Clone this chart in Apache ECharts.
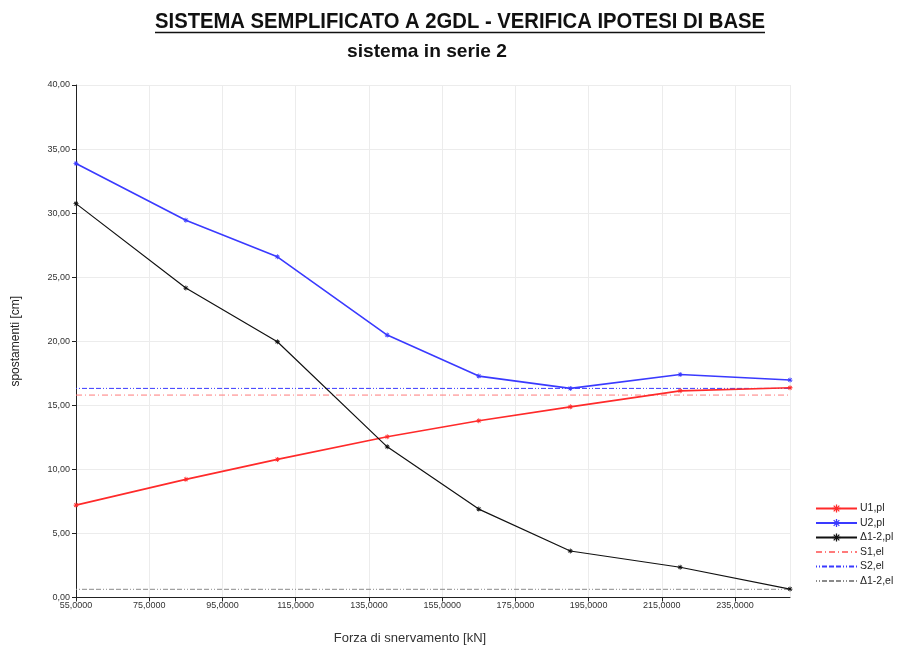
<!DOCTYPE html>
<html>
<head>
<meta charset="utf-8">
<script src="https://cdn.jsdelivr.net/npm/echarts@6/dist/echarts.min.js"></script>
<style>
  html, body { margin: 0; padding: 0; background: #ffffff; }
  #chart { width: 898px; height: 650px; }
</style>
</head>
<body>
<div id="chart"></div>
<script>
// Forza di snervamento [kN]
const forza = [55, 85, 110, 140, 165, 190, 220, 250];
// spostamenti plastici [cm]
const u1pl = [7.21, 9.22, 10.78, 12.54, 13.79, 14.88, 16.13, 16.37];
const u2pl = [33.87, 29.45, 26.59, 20.48, 17.28, 16.32, 17.41, 16.97];
const d12pl = [30.74, 24.15, 19.96, 11.76, 6.90, 3.63, 2.36, 0.66];
// spostamenti elastici (costanti) [cm]
const s1el = 15.80;
const s2el = 16.32;
const d12el = 0.64;

const seriesNames = ['U1,pl', 'U2,pl', 'Δ1-2,pl', 'S1,el', 'S2,el', 'Δ1-2,el'];
const titleText = 'SISTEMA SEMPLIFICATO A 2GDL - VERIFICA IPOTESI DI BASE';
const subtitleText = 'sistema in serie 2';

const pair = (xs, ys) => xs.map((x, i) => [x, ys[i]]);
const flat = (xs, v) => xs.map(x => [x, v]);

// asterisk marker built from four crossing bars
const asterisk = 'path://M-10,-1.6L10,-1.6L10,1.6L-10,1.6Z' +
  'M-1.6,-10L1.6,-10L1.6,10L-1.6,10Z' +
  'M-6.01,-8.13L8.13,6.01L6.01,8.13L-8.13,-6.01Z' +
  'M-8.13,6.01L6.01,-8.13L8.13,-6.01L-6.01,8.13Z';

// headings use a bold sans squeezed horizontally to a narrow cut
const headFont = '"Liberation Sans", Arial, sans-serif';
const ctx = document.createElement('canvas').getContext('2d');
function textWidth(text, size) {
  ctx.font = 'bold ' + size + 'px ' + headFont;
  return ctx.measureText(text).width;
}
const titleSize = 22;
const titleTarget = 610;
const titleScale = titleTarget / textWidth(titleText, titleSize);
const subSize = 18.5;
const subScale = 160 / textWidth(subtitleText, subSize);
const titleCx = 460;

const chart = echarts.init(document.getElementById('chart'), null, { renderer: 'canvas' });

const plLine = (name, data, color, width) => ({
  name, type: 'line', data,
  symbol: asterisk, symbolSize: 5, showSymbol: true,
  lineStyle: { color, width },
  itemStyle: { color },
  emphasis: { disabled: true },
  z: 3
});
const elLine = (name, data, color, dash) => ({
  name, type: 'line', data,
  symbol: 'none',
  lineStyle: { color, width: 1, type: dash },
  itemStyle: { color },
  emphasis: { disabled: true },
  z: 2
});
const hiddenMarker = { color: 'rgba(0,0,0,0)', borderWidth: 0, opacity: 0 };

chart.setOption({
  animation: false,
  backgroundColor: '#ffffff',
  textStyle: { fontFamily: '"Liberation Sans", Arial, sans-serif' },
  grid: { left: 76, right: 108, top: 85, bottom: 52.5, containLabel: false, outerBoundsMode: 'none' },
  graphic: [
    {
      type: 'text',
      x: titleCx, y: 21.5, scaleX: titleScale,
      style: {
        text: titleText, x: 0, y: 0,
        align: 'center', verticalAlign: 'middle',
        font: 'bold ' + titleSize + 'px ' + headFont,
        fill: '#111111'
      }
    },
    {
      type: 'line',
      shape: { x1: titleCx - titleTarget / 2, y1: 32.5, x2: titleCx + titleTarget / 2, y2: 32.5 },
      style: { stroke: '#111111', lineWidth: 1.5 }
    },
    {
      type: 'text',
      x: 427, y: 51.5, scaleX: subScale,
      style: {
        text: subtitleText, x: 0, y: 0,
        align: 'center', verticalAlign: 'middle',
        font: 'bold ' + subSize + 'px ' + headFont,
        fill: '#111111'
      }
    }
  ],
  legend: {
    orient: 'vertical',
    left: 815, top: 503, padding: 0,
    itemWidth: 41, itemHeight: 10, itemGap: 3.5,
    textStyle: { fontSize: 10.5, color: '#222222', padding: [0, 0, 0, -2] },
    selectedMode: false,
    data: [
      { name: seriesNames[0] },
      { name: seriesNames[1] },
      { name: seriesNames[2] },
      { name: seriesNames[3], itemStyle: hiddenMarker },
      { name: seriesNames[4], itemStyle: hiddenMarker },
      { name: seriesNames[5], itemStyle: hiddenMarker }
    ]
  },
  xAxis: {
    type: 'value',
    min: 55, max: 250, interval: 20,
    name: 'Forza di snervamento [kN]',
    nameLocation: 'middle', nameGap: 34,
    nameTextStyle: { fontSize: 13, color: '#333333', padding: [0, 46, 0, 0] },
    axisLine: { show: true, lineStyle: { color: '#222222', width: 1 } },
    axisTick: { show: true, length: 4, lineStyle: { color: '#222222' } },
    axisLabel: {
      fontSize: 9, color: '#333333', margin: 4, showMaxLabel: false,
      formatter: v => v.toFixed(4).replace('.', ',')
    },
    splitLine: { show: true, lineStyle: { color: '#ececec', width: 1 } }
  },
  yAxis: {
    type: 'value',
    min: 0, max: 40, interval: 5,
    name: 'spostamenti [cm]',
    nameLocation: 'middle', nameGap: 54, nameRotate: 90,
    nameTextStyle: { fontSize: 12, color: '#222222' },
    axisLine: { show: true, lineStyle: { color: '#222222', width: 1 } },
    axisTick: { show: true, length: 4, lineStyle: { color: '#222222' } },
    axisLabel: {
      fontSize: 9, color: '#333333', margin: 6,
      formatter: v => v.toFixed(2).replace('.', ',')
    },
    splitLine: { show: true, lineStyle: { color: '#ececec', width: 1 } }
  },
  series: [
    plLine(seriesNames[0], pair(forza, u1pl), '#ff2a2a', 1.6),
    plLine(seriesNames[1], pair(forza, u2pl), '#3a3aff', 1.6),
    plLine(seriesNames[2], pair(forza, d12pl), '#111111', 1.2),
    elLine(seriesNames[3], flat(forza, s1el), '#ff7a7a', [6, 3, 1, 3]),
    elLine(seriesNames[4], flat(forza, s2el), '#3a3aff', [1, 2, 1, 2, 5, 2, 5, 2, 5, 2]),
    elLine(seriesNames[5], flat(forza, d12el), '#8a8a8a', [1, 2, 1, 2, 5, 2, 5, 2, 5, 2])
  ]
});
</script>
</body>
</html>
